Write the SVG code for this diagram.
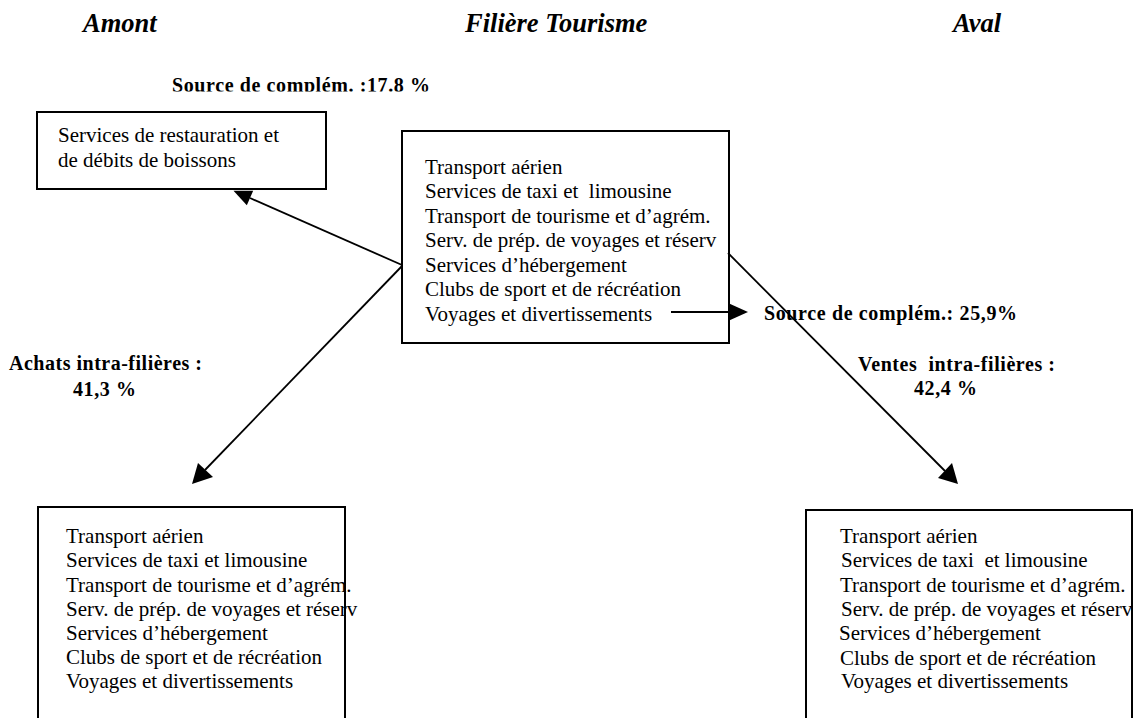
<svg xmlns="http://www.w3.org/2000/svg" width="1140" height="718" viewBox="0 0 1140 718">
<style>
.hdr{font-family:"Liberation Serif","Times New Roman",serif;font-size:26.5px;font-weight:bold;font-style:italic;fill:#000}
.body{font-family:"Liberation Serif","Times New Roman",serif;font-size:21px;fill:#000}
.lbl{font-family:"Liberation Serif","Times New Roman",serif;font-size:20px;font-weight:bold;fill:#000}
.box{fill:none;stroke:#000;stroke-width:2}
.conn{fill:none;stroke:#000;stroke-width:1.8}
.head{fill:#000;stroke:none}
</style>
<defs>
<clipPath id="clipTop"><rect x="0" y="0" width="1140" height="91.5"/></clipPath>
</defs>
<rect width="1140" height="718" fill="#fff"/>
<g id="headers">
<text class="hdr" x="83" y="32">Amont</text>
<text class="hdr" x="465" y="32">Filière Tourisme</text>
<text class="hdr" x="953" y="32">Aval</text>
</g>
<g id="labels">
<text class="lbl" x="172" y="92" textLength="258" lengthAdjust="spacing" clip-path="url(#clipTop)">Source de complém. :17.8 %</text>
<text class="lbl" x="764" y="320" textLength="253" lengthAdjust="spacing">Source de complém.: 25,9%</text>
<text class="lbl" x="9" y="370" textLength="193" lengthAdjust="spacing">Achats intra-filières :</text>
<text class="lbl" x="73" y="396" textLength="63" lengthAdjust="spacing">41,3 %</text>
<text class="lbl" x="858" y="371" textLength="197" lengthAdjust="spacing" xml:space="preserve">Ventes  intra-filières :</text>
<text class="lbl" x="914" y="395" textLength="63" lengthAdjust="spacing">42,4 %</text>
</g>
<g id="node-restauration">
<rect class="box" x="37" y="112" width="289" height="77"/>
<text class="body" x="58" y="142">Services de restauration et</text>
<text class="body" x="58" y="167">de débits de boissons</text>
</g>
<g id="node-filiere">
<rect class="box" x="402" y="131" width="327" height="212"/>
<text class="body" x="425" y="173.5">Transport aérien</text>
<text class="body" x="425" y="198" xml:space="preserve">Services de taxi et  limousine</text>
<text class="body" x="425" y="222.6">Transport de tourisme et d’agrém.</text>
<text class="body" x="425" y="247.2">Serv. de prép. de voyages et réserv</text>
<text class="body" x="425" y="271.7">Services d’hébergement</text>
<text class="body" x="425" y="296.3">Clubs de sport et de récréation</text>
<text class="body" x="425" y="320.8">Voyages et divertissements</text>
</g>
<g id="node-amont">
<rect class="box" x="38" y="507" width="307" height="230"/>
<text class="body" x="66" y="543">Transport aérien</text>
<text class="body" x="66" y="567">Services de taxi et limousine</text>
<text class="body" x="66" y="592">Transport de tourisme et d’agrém.</text>
<text class="body" x="66" y="616">Serv. de prép. de voyages et réserv</text>
<text class="body" x="66" y="640">Services d’hébergement</text>
<text class="body" x="66" y="664">Clubs de sport et de récréation</text>
<text class="body" x="66" y="688">Voyages et divertissements</text>
</g>
<g id="node-aval">
<rect class="box" x="806" y="510" width="326" height="230"/>
<text class="body" x="840" y="543">Transport aérien</text>
<text class="body" x="841" y="567" xml:space="preserve">Services de taxi  et limousine</text>
<text class="body" x="840" y="592">Transport de tourisme et d’agrém.</text>
<text class="body" x="841" y="616">Serv. de prép. de voyages et réserv</text>
<text class="body" x="839" y="640">Services d’hébergement</text>
<text class="body" x="840" y="665">Clubs de sport et de récréation</text>
<text class="body" x="841" y="688">Voyages et divertissements</text>
</g>
<g id="connectors">
<line class="conn" x1="402" y1="265" x2="250" y2="198"/>
<polygon class="head" points="233.5,190.7 253.2,190.7 246.8,205.3"/>
<line class="conn" x1="402" y1="266" x2="205" y2="470"/>
<polygon class="head" points="192,484 198,463 213,477"/>
<line class="conn" x1="728" y1="253" x2="945" y2="471"/>
<polygon class="head" points="958,484 938,478 952,463"/>
<line class="conn" x1="671" y1="312" x2="730" y2="312"/>
<polygon class="head" points="728,303 748,312 728,321"/>
</g>
</svg>
